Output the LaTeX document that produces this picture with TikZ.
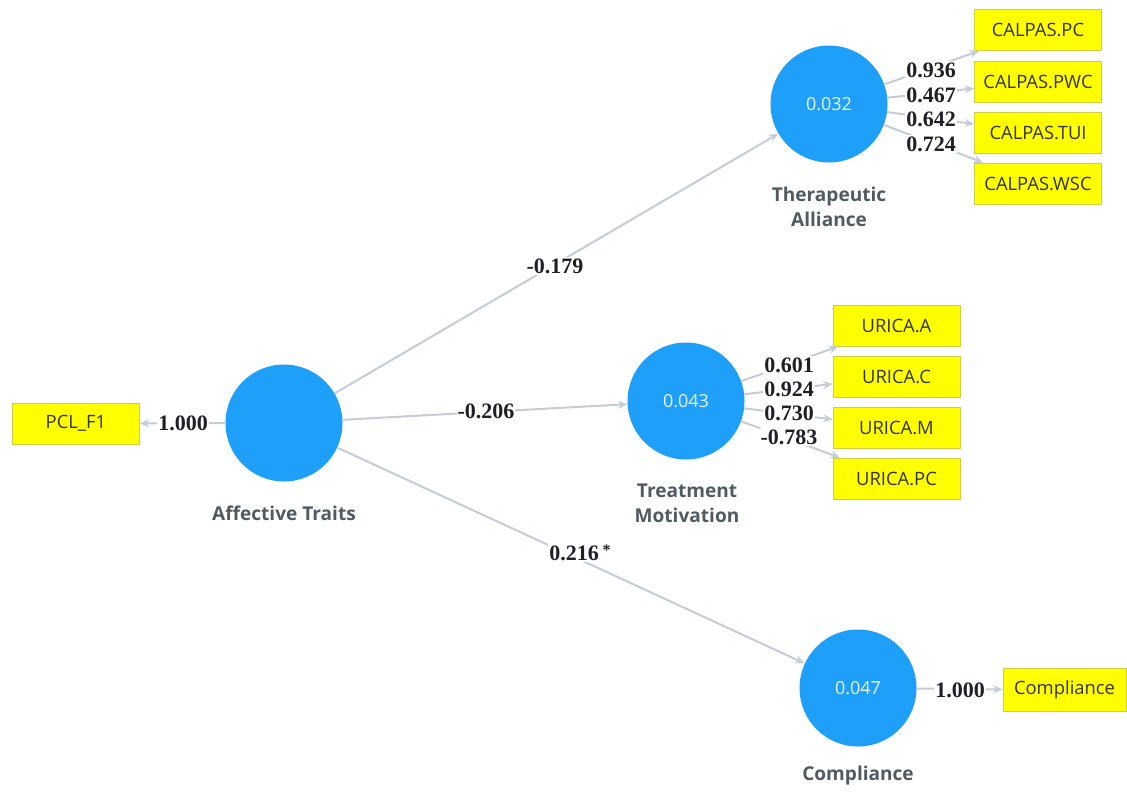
\documentclass[tikz,border=0pt]{standalone}
\usepackage{fontspec}
\setmainfont{Open Sans}
\newfontfamily\numfont{Liberation Serif}
\usetikzlibrary{arrows.meta}
\definecolor{lvblue}{RGB}{30,160,250}
\definecolor{indfill}{RGB}{255,255,0}
\definecolor{indborder}{RGB}{205,205,70}
\definecolor{conn}{RGB}{196,204,214}
\definecolor{lvtext}{RGB}{80,90,98}
\definecolor{coef}{RGB}{30,32,40}

\begin{document}
\begin{tikzpicture}[x=0.75pt,y=-0.75pt,
  latent/.style={circle,fill=lvblue,minimum size=87.75pt,inner sep=0pt,
    text=white!90!lvblue,font=\fontsize{13.5}{15}\selectfont},
  indicator/.style={rectangle,fill=indfill,draw=indborder,line width=0.6pt,
    minimum width=95.25pt,minimum height=30.75pt,inner sep=0pt,
    font=\fontsize{13.8}{15}\selectfont,text=black!80},
  lvname/.style={font=\bfseries\fontsize{14.3}{19}\selectfont,text=lvtext,align=center},
  coefnum/.style={font=\numfont\bfseries\fontsize{16.5}{18}\selectfont,text=coef,
    fill=white,inner sep=0.8pt},
  link/.style={draw=conn,line width=1.5pt,-{Stealth[length=7pt,width=6pt]}},
]
\useasboundingbox (0,0) rectangle (1127,793);

% latent variables
\node[latent] (AT) at (284,423) {};
\node[latent] (TA) at (829,104) {0.032};
\node[latent] (TM) at (686,401) {0.043};
\node[latent] (CO) at (858,688) {0.047};

\node[lvname] (ATname) at (284,513) {Affective Traits};
\node[lvname] (TAname) at (829,207) {Therapeutic\\Alliance};
\node[lvname] (TMname) at (687,503) {Treatment\\Motivation};
\node[lvname] (COname) at (858,776) {Compliance};

% indicators
\node[indicator] (PCL) at (76,423.5) {PCL\_F1};
\node[indicator] (CPC)  at (1038,30)    {CALPAS.PC};
\node[indicator] (CPWC) at (1038,81.5)  {CALPAS.PWC};
\node[indicator] (CTUI) at (1038,133)   {CALPAS.TUI};
\node[indicator] (CWSC) at (1038,183.5) {CALPAS.WSC};
\node[indicator] (UA)  at (896.5,325.5) {URICA.A};
\node[indicator] (UC)  at (896.5,376.5) {URICA.C};
\node[indicator] (UM)  at (896.5,427.5) {URICA.M};
\node[indicator] (UPC) at (896.5,478.5) {URICA.PC};
\node[indicator,minimum width=92.25pt,minimum height=32.25pt] (COMP) at (1064.5,690) {Compliance};

% structural paths
\draw[link] (AT) -- (TA);
\draw[link] (AT) -- (TM);
\draw[link] (AT) -- (CO);

% measurement paths
\draw[link] (AT) -- (PCL);
\draw[link] (TA) -- (CPC);
\draw[link] (TA) -- (CPWC);
\draw[link] (TA) -- (CTUI);
\draw[link] (TA) -- (CWSC);
\draw[link] (TM) -- (UA);
\draw[link] (TM) -- (UC);
\draw[link] (TM) -- (UM);
\draw[link] (TM) -- (UPC);
\draw[link] (CO) -- (COMP);

% coefficients
\node[coefnum] (kTA) at (555,266) {-0.179};
\node[coefnum] (kTM) at (486,411) {-0.206};
\node[coefnum] (kCO) at (580,553) {0.216\,\raisebox{0.45ex}{\fontsize{12}{12}\selectfont*}};
\node[coefnum] (kPCL) at (183,423) {1.000};
\node[coefnum] (kCOMP) at (960,690) {1.000};

\node[coefnum] (lCPC)  at (931,70)  {0.936};
\node[coefnum] (lCPWC) at (931,95)  {0.467};
\node[coefnum] (lCTUI) at (931,119) {0.642};
\node[coefnum] (lCWSC) at (931,144) {0.724};

\node[coefnum] (lUA)  at (789,365) {0.601};
\node[coefnum] (lUC)  at (789,389) {0.924};
\node[coefnum] (lUM)  at (789,413) {0.730};
\node[coefnum] (lUPC) at (789,437) {-0.783};
\end{tikzpicture}
\end{document}
